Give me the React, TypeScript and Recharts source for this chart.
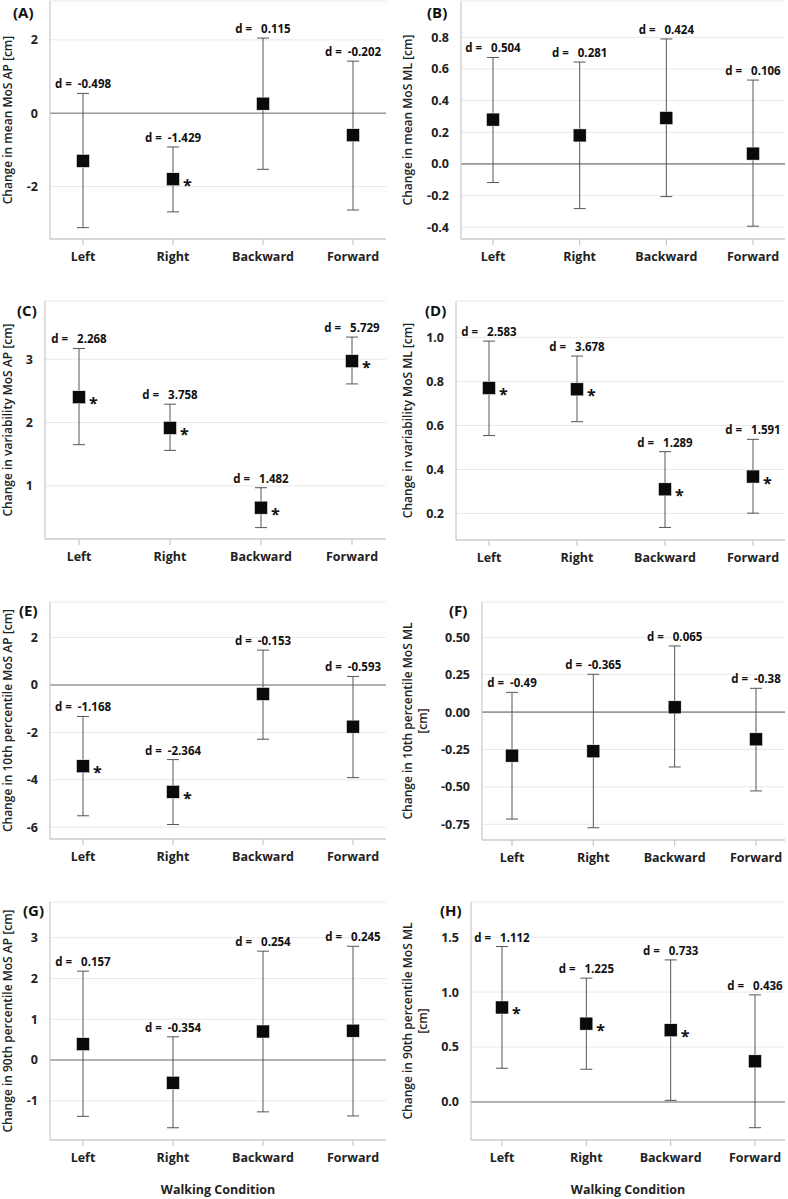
import React from 'react';
import {
  ComposedChart,
  Scatter,
  ErrorBar,
  XAxis,
  YAxis,
  CartesianGrid,
  ReferenceLine,
} from 'recharts';

const CONDITIONS = ['Left', 'Right', 'Backward', 'Forward'];

// (A) mean MoS AP
const A_MEAN = [-1.3, -1.8, 0.26, -0.6];
const A_LO = [-3.12, -2.69, -1.53, -2.64];
const A_HI = [0.54, -0.92, 2.05, 1.42];
const A_D = ['-0.498', '-1.429', '0.115', '-0.202'];
const A_SIG = [false, true, false, false];
const A_TICKS = [-2, 0, 2];

// (B) mean MoS ML
const B_MEAN = [0.28, 0.18, 0.29, 0.065];
const B_LO = [-0.118, -0.283, -0.207, -0.394];
const B_HI = [0.673, 0.644, 0.79, 0.53];
const B_D = ['0.504', '0.281', '0.424', '0.106'];
const B_SIG = [false, false, false, false];
const B_TICKS = [-0.4, -0.2, 0, 0.2, 0.4, 0.6, 0.8];

// (C) variability MoS AP
const C_MEAN = [2.4, 1.915, 0.655, 2.97];
const C_LO = [1.65, 1.56, 0.34, 2.61];
const C_HI = [3.17, 2.29, 0.97, 3.35];
const C_D = ['2.268', '3.758', '1.482', '5.729'];
const C_SIG = [true, true, true, true];
const C_TICKS = [1, 2, 3];

// (D) variability MoS ML
const D_MEAN = [0.77, 0.764, 0.31, 0.368];
const D_LO = [0.554, 0.617, 0.137, 0.202];
const D_HI = [0.983, 0.915, 0.481, 0.537];
const D_D = ['2.583', '3.678', '1.289', '1.591'];
const D_SIG = [true, true, true, true];
const D_TICKS = [0.2, 0.4, 0.6, 0.8, 1.0];

// (E) 10th percentile MoS AP
const E_MEAN = [-3.43, -4.51, -0.38, -1.76];
const E_LO = [-5.52, -5.89, -2.29, -3.91];
const E_HI = [-1.33, -3.15, 1.47, 0.36];
const E_D = ['-1.168', '-2.364', '-0.153', '-0.593'];
const E_SIG = [true, true, false, false];
const E_TICKS = [-6, -4, -2, 0, 2];

// (F) 10th percentile MoS ML
const F_MEAN = [-0.291, -0.262, 0.032, -0.182];
const F_LO = [-0.715, -0.773, -0.367, -0.527];
const F_HI = [0.132, 0.253, 0.442, 0.159];
const F_D = ['-0.49', '-0.365', '0.065', '-0.38'];
const F_SIG = [false, false, false, false];
const F_TICKS = [-0.75, -0.5, -0.25, 0, 0.25, 0.5];

// (G) 90th percentile MoS AP
const G_MEAN = [0.39, -0.556, 0.7, 0.72];
const G_LO = [-1.38, -1.66, -1.27, -1.37];
const G_HI = [2.18, 0.57, 2.67, 2.79];
const G_D = ['0.157', '-0.354', '0.254', '0.245'];
const G_SIG = [false, false, false, false];
const G_TICKS = [-1, 0, 1, 2, 3];

// (H) 90th percentile MoS ML
const H_MEAN = [0.86, 0.713, 0.653, 0.37];
const H_LO = [0.307, 0.298, 0.015, -0.234];
const H_HI = [1.415, 1.127, 1.293, 0.975];
const H_D = ['1.112', '1.225', '0.733', '0.436'];
const H_SIG = [true, true, true, false];
const H_TICKS = [0, 0.5, 1.0, 1.5];

const FONT = '"Open Sans", "Noto Sans", sans-serif';
const FRAME = '#bdbdbd';
const ROW_TOP = [0, 300, 590, 890];
const ROW_H = [300, 290, 300, 309];

type PanelDef = {
  tag: string;
  tagPos: [number, number];
  title: string[];
  titleX: number[];
  mean: number[];
  lo: number[];
  hi: number[];
  d: string[];
  sig: boolean[];
  ticks: number[];
  domain: [number, number];
  decimals: number;
  zero: boolean;
  col: number;
  row: number;
  frame: [number, number, number, number];
  pad: [number, number];
  xTitle?: boolean;
};

const PANELS: PanelDef[] = [
  { tag: '(A)', tagPos: [13, 12], title: ['Change in mean MoS AP [cm]'], titleX: [7], mean: A_MEAN, lo: A_LO, hi: A_HI, d: A_D, sig: A_SIG, ticks: A_TICKS, domain: [-3.43, 3.06], decimals: 0, zero: true, col: 0, row: 0, frame: [50, 1, 386, 239], pad: [33, 33] },
  { tag: '(B)', tagPos: [427, 12], title: ['Change in mean MoS ML [cm]'], titleX: [13], mean: B_MEAN, lo: B_LO, hi: B_HI, d: B_D, sig: B_SIG, ticks: B_TICKS, domain: [-0.475, 1.03], decimals: 1, zero: true, col: 1, row: 0, frame: [461, 1, 785, 239], pad: [32, 32] },
  { tag: '(C)', tagPos: [17, 310], title: ['Change in variability MoS AP [cm]'], titleX: [7], mean: C_MEAN, lo: C_LO, hi: C_HI, d: C_D, sig: C_SIG, ticks: C_TICKS, domain: [0.16, 3.92], decimals: 0, zero: false, col: 0, row: 1, frame: [45, 301, 386, 539], pad: [34, 34] },
  { tag: '(D)', tagPos: [425, 310], title: ['Change in variability MoS ML [cm]'], titleX: [13], mean: D_MEAN, lo: D_LO, hi: D_HI, d: D_D, sig: D_SIG, ticks: D_TICKS, domain: [0.08, 1.165], decimals: 1, zero: false, col: 1, row: 1, frame: [456, 301, 785, 540], pad: [33, 32] },
  { tag: '(E)', tagPos: [19, 610], title: ['Change in 10th percentile MoS AP [cm]'], titleX: [7], mean: E_MEAN, lo: E_LO, hi: E_HI, d: E_D, sig: E_SIG, ticks: E_TICKS, domain: [-6.5, 3.5], decimals: 0, zero: true, col: 0, row: 2, frame: [50, 602, 386, 839], pad: [33, 33] },
  { tag: '(F)', tagPos: [449, 610], title: ['Change in 10th percentile MoS ML', '[cm]'], titleX: [13, 28], mean: F_MEAN, lo: F_LO, hi: F_HI, d: F_D, sig: F_SIG, ticks: F_TICKS, domain: [-0.855, 0.736], decimals: 2, zero: true, col: 1, row: 2, frame: [482, 602, 785, 840], pad: [30, 29] },
  { tag: '(G)', tagPos: [23, 910], title: ['Change in 90th percentile MoS AP [cm]'], titleX: [7], mean: G_MEAN, lo: G_LO, hi: G_HI, d: G_D, sig: G_SIG, ticks: G_TICKS, domain: [-1.96, 3.875], decimals: 0, zero: true, col: 0, row: 3, frame: [50, 902, 386, 1140], pad: [33, 33], xTitle: true },
  { tag: '(H)', tagPos: [440, 910], title: ['Change in 90th percentile MoS ML', '[cm]'], titleX: [13, 28], mean: H_MEAN, lo: H_LO, hi: H_HI, d: H_D, sig: H_SIG, ticks: H_TICKS, domain: [-0.346, 1.82], decimals: 1, zero: true, col: 1, row: 3, frame: [471, 902, 785, 1140], pad: [31, 30], xTitle: true },
];

const MeanMarker = (props: any) => {
  const { cx, cy, payload } = props;
  if (cx == null || cy == null) return null;
  return (
    <g>
      <rect x={cx - 6.5} y={cy - 6.5} width={13} height={13} fill="#0a0a0a" stroke="#fff" strokeWidth={0.5} />
      {payload.sig && (
        <text x={cx + 10} y={cy + 12} fontSize={16} fontWeight={700} fill="#111" fontFamily={FONT}>
          *
        </text>
      )}
    </g>
  );
};

const EffectLabel = (props: any) => {
  const { cx, cy, payload } = props;
  if (cx == null || cy == null) return null;
  const gap = payload.d.startsWith('-') ? '\u00a0\u00a0' : '\u00a0\u00a0\u00a0';
  return (
    <text
      x={cx}
      y={cy - 5}
      textAnchor="middle"
      fontSize={11.5}
      fontWeight={700}
      fill="#111"
      fontFamily={FONT}
    >
      {'d =' + gap + payload.d}
    </text>
  );
};

const Panel = ({ p }: { p: PanelDef }) => {
  const colX = p.col * 394;
  const top = ROW_TOP[p.row];
  const height = ROW_H[p.row];
  const [x0, y0, x1, y1] = p.frame;
  const xAxisH = 30;
  const data = CONDITIONS.map((c, i) => ({
    cond: c,
    mean: p.mean[i],
    hi: p.hi[i],
    err: [p.mean[i] - p.lo[i], p.hi[i] - p.mean[i]],
    d: p.d[i],
    sig: p.sig[i],
  }));

  const yTitle = (lp: any) => {
    const vb = lp.viewBox;
    const cy = vb.y + vb.height / 2;
    return (
      <g>
        {p.title.map((t, i) => (
          <text
            key={i}
            x={p.titleX[i]}
            y={cy}
            textAnchor="middle"
            dominantBaseline="central"
            transform={`rotate(-90 ${p.titleX[i]} ${cy})`}
            fontSize={12}
            fontWeight={600}
            fill="#222"
            fontFamily={FONT}
          >
            {t}
          </text>
        ))}
      </g>
    );
  };

  const xTitle = (lp: any) => {
    const vb = lp.viewBox;
    return (
      <text
        x={vb.x + vb.width / 2}
        y={vb.y + 54}
        textAnchor="middle"
        fontSize={12.5}
        fontWeight={700}
        fill="#222"
        fontFamily={FONT}
      >
        Walking Condition
      </text>
    );
  };

  return (
    <div style={{ position: 'absolute', left: colX, top, width: 394, height }}>
      <ComposedChart
        width={394}
        height={height}
        data={data}
        margin={{ top: y0 - top, right: colX + 394 - x1, left: 0, bottom: top + height - y1 - xAxisH }}
      >
        <CartesianGrid vertical={false} stroke="#e9e9e9" />
        <XAxis
          dataKey="cond"
          type="category"
          scale="point"
          padding={{ left: p.pad[0], right: p.pad[1] }}
          height={xAxisH}
          axisLine={{ stroke: FRAME }}
          tickLine={{ stroke: FRAME }}
          tickSize={6}
          tickMargin={7}
          tick={{ fontSize: 12.5, fontWeight: 700, fill: '#222', fontFamily: FONT }}
          label={p.xTitle ? { content: xTitle } : undefined}
        />
        <XAxis
          xAxisId="frame"
          dataKey="cond"
          orientation="top"
          height={0}
          tick={false}
          tickLine={false}
          axisLine={{ stroke: FRAME }}
        />
        <YAxis
          type="number"
          domain={p.domain}
          allowDataOverflow
          ticks={p.ticks}
          width={x0 - colX}
          axisLine={{ stroke: FRAME }}
          tickLine={false}
          tickSize={6}
          tickMargin={6}
          tickFormatter={(v: number) => v.toFixed(p.decimals)}
          tick={{ fontSize: 12.5, fontWeight: 700, fill: '#222', fontFamily: FONT }}
          label={{ content: yTitle }}
        />
        <YAxis
          yAxisId="frame"
          orientation="right"
          type="number"
          domain={p.domain}
          allowDataOverflow
          width={0}
          tick={false}
          tickLine={false}
          axisLine={{ stroke: FRAME }}
        />
        {p.zero && <ReferenceLine y={0} stroke="#9a9a9a" strokeWidth={1.6} />}
        <Scatter dataKey="mean" shape={<MeanMarker />} isAnimationActive={false} legendType="none">
          <ErrorBar dataKey="err" direction="y" width={6} stroke="#555" strokeWidth={1} isAnimationActive={false} />
        </Scatter>
        <Scatter dataKey="hi" shape={<EffectLabel />} isAnimationActive={false} legendType="none" />
      </ComposedChart>
    </div>
  );
};

export default function App() {
  return (
    <div
      style={{
        position: 'absolute',
        left: 0,
        top: 0,
        width: 788,
        height: 1199,
        background: '#fff',
        fontFamily: FONT,
      }}
    >
      {PANELS.map((p) => (
        <React.Fragment key={p.tag}>
          <Panel p={p} />
          <div
            style={{
              position: 'absolute',
              left: p.tagPos[0],
              top: p.tagPos[1] - 9,
              fontSize: 15,
              lineHeight: '18px',
              fontWeight: 700,
              color: '#111',
            }}
          >
            {p.tag}
          </div>
        </React.Fragment>
      ))}
    </div>
  );
}
